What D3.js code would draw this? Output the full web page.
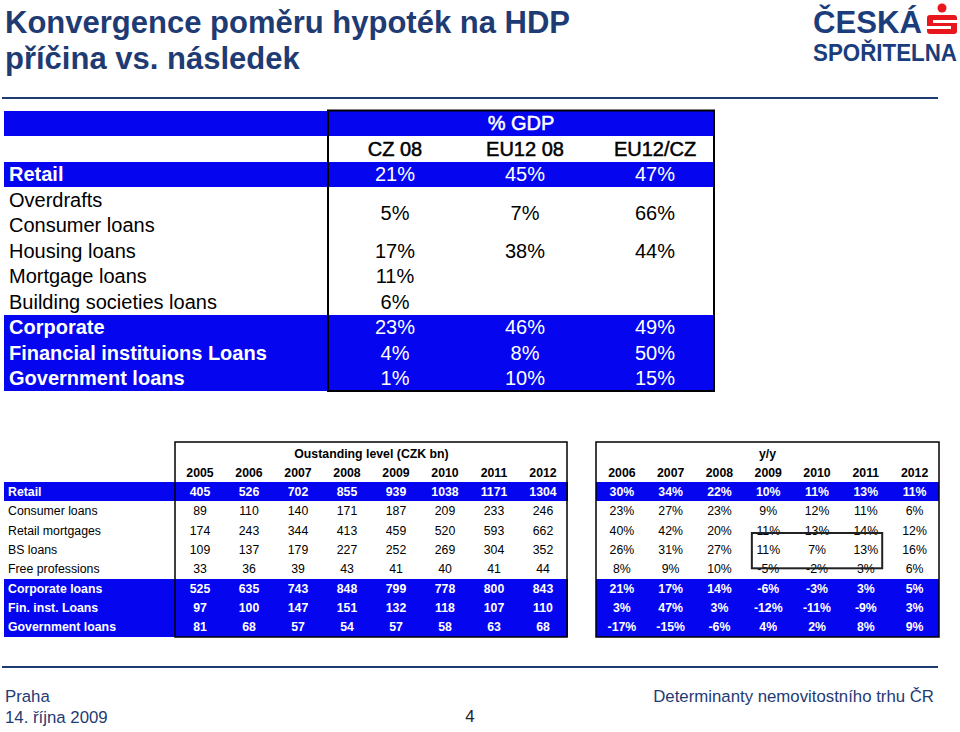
<!DOCTYPE html>
<meta charset="utf-8">
<style>
  body {
    margin: 0;
    overflow: hidden;
    background: #fff;
  }
  text {
    font-family: "Liberation Sans", Arial, sans-serif;
  }
</style>
<body>
</body>
<script src="https://cdn.jsdelivr.net/npm/d3@7"></script>
<script>

// --- top table: % GDP
var gdpColumns = ["CZ 08", "EU12 08", "EU12/CZ"];
var gdpLabels = [["Retail"], ["Overdrafts", "Consumer loans"], ["Housing loans"], ["Mortgage loans"],
                 ["Building societies loans"], ["Corporate"], ["Financial instituions Loans"], ["Government loans"]];
var gdpValues = [["21%", "45%", "47%"], ["5%", "7%", "66%"], ["17%", "38%", "44%"], ["11%", null, null],
                 ["6%", null, null], ["23%", "46%", "49%"], ["4%", "8%", "50%"], ["1%", "10%", "15%"]];
var gdpBlue = ["Retail", "Corporate", "Financial instituions Loans", "Government loans"];

// --- bottom tables: outstanding level and y/y
var levelYears = ["2005", "2006", "2007", "2008", "2009", "2010", "2011", "2012"];
var yoyYears = ["2006", "2007", "2008", "2009", "2010", "2011", "2012"];
var loanLabels = ["Retail", "Consumer loans", "Retail mortgages", "BS loans", "Free professions",
                  "Corporate loans", "Fin. inst. Loans", "Government loans"];
var levels = [
  [405, 526, 702, 855, 939, 1038, 1171, 1304],
  [89, 110, 140, 171, 187, 209, 233, 246],
  [174, 243, 344, 413, 459, 520, 593, 662],
  [109, 137, 179, 227, 252, 269, 304, 352],
  [33, 36, 39, 43, 41, 40, 41, 44],
  [525, 635, 743, 848, 799, 778, 800, 843],
  [97, 100, 147, 151, 132, 118, 107, 110],
  [81, 68, 57, 54, 57, 58, 63, 68]
];
var yoy = [
  [30, 34, 22, 10, 11, 13, 11],
  [23, 27, 23, 9, 12, 11, 6],
  [40, 42, 20, 11, 13, 14, 12],
  [26, 31, 27, 11, 7, 13, 16],
  [8, 9, 10, -5, -2, 3, 6],
  [21, 17, 14, -6, -3, 3, 5],
  [3, 47, 3, -12, -11, -9, 3],
  [-17, -15, -6, 4, 2, 8, 9]
];
var loanBlue = ["Retail", "Corporate loans", "Fin. inst. Loans", "Government loans"];
var boxed = {rows: ["BS loans", "Free professions"], years: ["2009", "2011"]};

var navy = "#1f3b73",
    blue = "#0505f0";

var svg = d3.select("body").append("svg")
    .attr("width", 960)
    .attr("height", 732);

svg.append("rect").attr("width", 960).attr("height", 732).attr("fill", "#fff");

// blue band with whole-pixel edges so stacked rows don't leave seams
function band(g, x0, x1, y0, y1) {
  var a = Math.round(y0), b = Math.round(y1);
  g.append("rect")
      .attr("x", x0).attr("y", a)
      .attr("width", x1 - x0).attr("height", b - a)
      .attr("fill", blue)
      .attr("shape-rendering", "crispEdges");
}

// title
var title = svg.append("text")
    .attr("fill", navy)
    .attr("font-size", 31)
    .attr("font-weight", "bold");
title.append("tspan").attr("x", 5).attr("y", 33).text("Konvergence poměru hypoték na HDP");
title.append("tspan").attr("x", 5).attr("y", 69).text("příčina vs. následek");

// logo
var logo = svg.append("g").attr("fill", "#1b3d7c").attr("font-weight", "bold");
logo.append("text").attr("x", 813).attr("y", 33).attr("font-size", 32)
    .attr("textLength", 109).attr("lengthAdjust", "spacingAndGlyphs").text("ČESKÁ");
logo.append("text").attr("x", 813).attr("y", 61).attr("font-size", 23)
    .attr("textLength", 144).attr("lengthAdjust", "spacingAndGlyphs").text("SPOŘITELNA");
logo.append("circle").attr("cx", 942).attr("cy", 8).attr("r", 4.5).attr("fill", "#e8161d");
logo.append("rect").attr("x", 927).attr("y", 15).attr("width", 30).attr("height", 19)
    .attr("rx", 3).attr("fill", "#e8161d");
logo.append("rect").attr("x", 933).attr("y", 20).attr("width", 24).attr("height", 3).attr("fill", "#fff");
logo.append("rect").attr("x", 927).attr("y", 26).attr("width", 24).attr("height", 3).attr("fill", "#fff");

// rules
[98, 667].forEach(function(y) {
  svg.append("line")
      .attr("x1", 2).attr("x2", 938)
      .attr("y1", y).attr("y2", y)
      .attr("stroke", navy)
      .attr("stroke-width", 2);
});

// ---------- top table ----------
var gdpRowKeys = ["head", "cols"];
gdpLabels.forEach(function(l) {
  l.forEach(function(s) { gdpRowKeys.push(s); });
});

var gY = d3.scaleBand().domain(gdpRowKeys).range([110.5, 391]);
var gX = d3.scaleBand().domain(gdpColumns).range([330, 720]);
var gLeft = 4, gSplit = 328, gRight = 714;

var gdpTable = svg.append("g").attr("font-size", 20);

band(gdpTable, gLeft, gRight, gY("head"), gY("head") + gY.bandwidth());

gdpLabels.forEach(function(lab, i) {
  if (gdpBlue.indexOf(lab[0]) >= 0) {
    band(gdpTable, gLeft, gRight, gY(lab[0]), gY(lab[0]) + gY.bandwidth() * lab.length);
  }
});

gdpTable.append("text")
    .attr("x", (gSplit + gRight) / 2).attr("y", gY("head") + gY.bandwidth() / 2)
    .attr("dy", "0.36em").attr("text-anchor", "middle")
    .attr("fill", "#fff").attr("stroke", "#fff").attr("stroke-width", 0.5)
    .text("% GDP");

gdpTable.selectAll(".colhead")
    .data(gdpColumns)
  .enter().append("text")
    .attr("x", d => gX(d) + gX.bandwidth() / 2)
    .attr("y", gY("cols") + gY.bandwidth() / 2)
    .attr("dy", "0.36em").attr("text-anchor", "middle")
    .attr("fill", "#000").attr("stroke", "#000").attr("stroke-width", 0.5)
    .text(d => d);

gdpLabels.forEach(function(lab, i) {
  var isBlue = gdpBlue.indexOf(lab[0]) >= 0;
  lab.forEach(function(s) {
    gdpTable.append("text")
        .attr("x", 9).attr("y", gY(s) + gY.bandwidth() / 2)
        .attr("dy", "0.36em")
        .attr("fill", isBlue ? "#fff" : "#000")
        .attr("font-weight", isBlue ? "bold" : "normal")
        .text(s);
  });
  var cy = gY(lab[0]) + gY.bandwidth() * lab.length / 2;
  gdpValues[i].forEach(function(v, j) {
    if (v == null) return;
    gdpTable.append("text")
        .attr("x", gX(gdpColumns[j]) + gX.bandwidth() / 2).attr("y", cy)
        .attr("dy", "0.36em").attr("text-anchor", "middle")
        .attr("fill", isBlue ? "#fff" : "#000")
        .text(v);
  });
});

gdpTable.append("path")
    .attr("d", `M${gSplit},${gY("head")}H${gRight}V391H${gSplit}Z`)
    .attr("fill", "none").attr("stroke", "#000").attr("stroke-width", 2);

// ---------- bottom tables ----------
var bRowKeys = ["title", "years"].concat(loanLabels);
var bY = d3.scaleBand().domain(bRowKeys).range([443.5, 636.5]);
var lX = d3.scaleBand().domain(levelYears).range([175.5, 567.5]);
var rX = d3.scaleBand().domain(yoyYears).range([597.5, 939]);

var loanTable = svg.append("g").attr("font-size", 12.3);

loanLabels.forEach(function(lab) {
  if (loanBlue.indexOf(lab) < 0) return;
  band(loanTable, 4, 567.5, bY(lab), bY(lab) + bY.bandwidth());
  band(loanTable, 596, 939, bY(lab), bY(lab) + bY.bandwidth());
});

function yMid(k) { return bY(k) + bY.bandwidth() / 2; }

loanTable.append("text")
    .attr("x", (175.5 + 567.5) / 2).attr("y", yMid("title"))
    .attr("dy", "0.36em").attr("text-anchor", "middle").attr("font-weight", "bold")
    .text("Oustanding level (CZK bn)");
loanTable.append("text")
    .attr("x", (596 + 939) / 2).attr("y", yMid("title"))
    .attr("dy", "0.36em").attr("text-anchor", "middle").attr("font-weight", "bold")
    .text("y/y");

loanTable.selectAll(".ly")
    .data(levelYears)
  .enter().append("text")
    .attr("x", d => lX(d) + lX.bandwidth() / 2).attr("y", yMid("years"))
    .attr("dy", "0.36em").attr("text-anchor", "middle").attr("font-weight", "bold")
    .text(d => d);
loanTable.selectAll(".ry")
    .data(yoyYears)
  .enter().append("text")
    .attr("x", d => rX(d) + rX.bandwidth() / 2).attr("y", yMid("years"))
    .attr("dy", "0.36em").attr("text-anchor", "middle").attr("font-weight", "bold")
    .text(d => d);

loanLabels.forEach(function(lab, i) {
  var isBlue = loanBlue.indexOf(lab) >= 0;
  var fill = isBlue ? "#fff" : "#000",
      weight = isBlue ? "bold" : "normal";
  loanTable.append("text")
      .attr("x", 8).attr("y", yMid(lab)).attr("dy", "0.36em")
      .attr("fill", fill).attr("font-weight", weight)
      .text(lab);
  levels[i].forEach(function(v, j) {
    loanTable.append("text")
        .attr("x", lX(levelYears[j]) + lX.bandwidth() / 2).attr("y", yMid(lab))
        .attr("dy", "0.36em").attr("text-anchor", "middle")
        .attr("fill", fill).attr("font-weight", weight)
        .text(v);
  });
  yoy[i].forEach(function(v, j) {
    loanTable.append("text")
        .attr("x", rX(yoyYears[j]) + rX.bandwidth() / 2).attr("y", yMid(lab))
        .attr("dy", "0.36em").attr("text-anchor", "middle")
        .attr("fill", fill).attr("font-weight", weight)
        .text(v + "%");
  });
});

loanTable.append("rect")
    .attr("x", 175).attr("y", 442).attr("width", 567 - 175).attr("height", 637 - 442)
    .attr("fill", "none").attr("stroke", "#000").attr("stroke-width", 1.5);
loanTable.append("rect")
    .attr("x", 596).attr("y", 442).attr("width", 939 - 596).attr("height", 637 - 442)
    .attr("fill", "none").attr("stroke", "#000").attr("stroke-width", 1.5);

// highlight box
var bx0 = rX(boxed.years[0]) + 8,
    bx1 = rX(boxed.years[1]) + rX.bandwidth() - 8,
    by0 = bY(boxed.rows[0]) - 7,
    by1 = bY(boxed.rows[1]) + 9;
loanTable.append("rect")
    .attr("x", bx0).attr("y", by0)
    .attr("width", bx1 - bx0).attr("height", by1 - by0)
    .attr("fill", "none").attr("stroke", "#222").attr("stroke-width", 2);

// footer
var foot = svg.append("g").attr("fill", navy).attr("font-size", 16.8);
foot.append("text").attr("x", 5).attr("y", 702).text("Praha");
foot.append("text").attr("x", 5).attr("y", 723).text("14. října 2009");
foot.append("text").attr("x", 470).attr("y", 722).attr("text-anchor", "middle").attr("fill", "#222").text("4");
foot.append("text").attr("x", 934).attr("y", 702).attr("text-anchor", "end").text("Determinanty nemovitostního trhu ČR");

</script>
